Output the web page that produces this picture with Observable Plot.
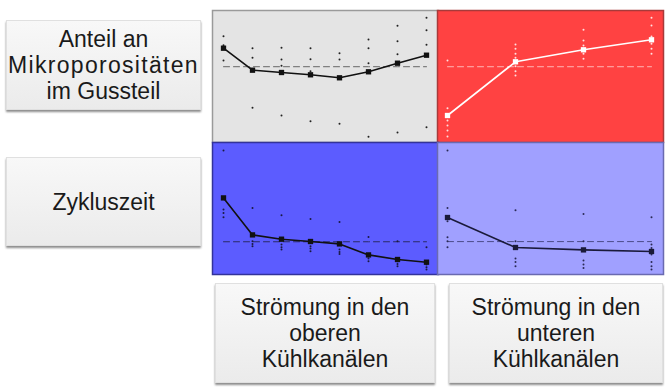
<!DOCTYPE html>
<html>
<head>
<meta charset="utf-8">
<script src="https://cdn.jsdelivr.net/npm/d3@7"></script>
<script src="https://cdn.jsdelivr.net/npm/@observablehq/plot@0.6"></script>
<style>
  html, body { margin: 0; padding: 0; background: #fff; }
  #wrap { position: relative; width: 672px; height: 391px; overflow: hidden; font-family: "Liberation Sans", Arial, Helvetica, sans-serif; }
  .panel { position: absolute; }
  .box {
    position: absolute; box-sizing: border-box;
    display: flex; align-items: center; justify-content: center; text-align: center;
    background: linear-gradient(#f8f8f8, #ebebeb);
    border: 1px solid #e0e0e0;
    box-shadow: 0 2px 2px rgba(0,0,0,0.45);
    color: #1a1a1a; font-size: 23px; line-height: 26px;
  }
  .wide { letter-spacing: 1.3px; }
</style>
</head>
<body>
<div id="wrap"></div>
<script>
// Factor levels (categories)
const levelsOben = ["O1", "O2", "O3", "O4", "O5", "O6", "O7", "O8"];
const levelsUnten = ["U1", "U2", "U3", "U4"];

// Row / column labels
const rowLabels = ["Anteil an<br><span class=\"wide\">Mikroporositäten</span><br>im Gussteil", "Zykluszeit"];
const colLabels = ["Strömung in den<br>oberen<br>Kühlkanälen", "Strömung in den<br>unteren<br>Kühlkanälen"];

// Mean values (main effects)
const meanPoroOben = [0.943, 0.723, 0.700, 0.677, 0.647, 0.707, 0.793, 0.873];
const meanPoroUnten = [0.270, 0.807, 0.927, 1.027];
const meanZeitOben = [0.766, 0.396, 0.353, 0.330, 0.306, 0.196, 0.150, 0.123];
const meanZeitUnten = [0.570, 0.270, 0.246, 0.230];

// Individual observations per level
const obsPoroOben = [
  [1.063, 0.973, 0.820],
  [0.943, 0.847, 0.347],
  [0.947, 0.830, 0.767, 0.270],
  [0.943, 0.833, 0.713, 0.213],
  [0.893, 0.830, 0.187],
  [1.030, 0.943, 0.793, 0.057],
  [1.167, 1.013, 0.883, 0.100],
  [1.247, 1.123, 0.977, 0.153]
];
const obsPoroUnten = [
  [0.820, 0.343, 0.220, 0.170, 0.120, 0.060],
  [0.980, 0.937, 0.887, 0.847, 0.763, 0.713, 0.670],
  [1.127, 1.020, 0.970, 0.887, 0.837],
  [1.247, 1.170, 1.060, 0.987, 0.937, 0.887]
];
const obsZeitOben = [
  [1.240, 0.650, 0.616, 0.573],
  [0.666, 0.333, 0.306, 0.283],
  [0.593, 0.300, 0.273, 0.250],
  [0.556, 0.283, 0.260, 0.233],
  [0.526, 0.250, 0.226, 0.206],
  [0.376, 0.183, 0.160, 0.133],
  [0.333, 0.133, 0.106, 0.083],
  [0.273, 0.100, 0.073, 0.050]
];
const obsZeitUnten = [
  [1.240, 0.666, 0.533, 0.373, 0.333, 0.273],
  [0.643, 0.333, 0.160, 0.126, 0.083],
  [0.606, 0.333, 0.140, 0.100, 0.066],
  [0.573, 0.300, 0.266, 0.200, 0.126, 0.083, 0.050]
];

const wrap = document.getElementById("wrap");

function panel({levels, means, obs, bg, border, line, dots, dashColor}) {
  const meanData = levels.map((l, i) => ({level: l, v: means[i]}));
  const obsData = levels.flatMap((l, i) => obs[i].map(v => ({level: l, v})));
  const g = d3.mean(means);
  return Plot.plot({
    width: 226, height: 132, margin: 0,
    style: {background: "transparent", overflow: "visible"},
    x: {type: "point", domain: levels, padding: 0, insetLeft: 10, insetRight: 12, axis: null},
    y: {domain: [0, 1.32], axis: null},
    marks: [
      Plot.frame({fill: bg, stroke: border, strokeWidth: 1.5}),
      Plot.line(levels.map(l => ({level: l, v: g})), {x: "level", y: "v", stroke: dashColor, strokeDasharray: "6,4", strokeWidth: 1}),
      Plot.dot(obsData, {x: "level", y: "v", r: 1, fill: dots, stroke: "none"}),
      Plot.line(meanData, {x: "level", y: "v", stroke: line, strokeWidth: 1.6}),
      Plot.dot(meanData, {x: "level", y: "v", symbol: "square", r: 3, fill: line, stroke: "none"})
    ]
  });
}

const panels = [
  {left: 212, top: 10, opts: {levels: levelsOben, means: meanPoroOben, obs: obsPoroOben, bg: "#e4e4e4", border: "#9a9a9a", line: "#111", dots: "#222", dashColor: "#666"}},
  {left: 437, top: 10, opts: {levels: levelsUnten, means: meanPoroUnten, obs: obsPoroUnten, bg: "#ff4242", border: "#a83a3a", line: "#fff", dots: "#ffe0e0", dashColor: "#ffb4b4"}},
  {left: 212, top: 142, opts: {levels: levelsOben, means: meanZeitOben, obs: obsZeitOben, bg: "#5c5cff", border: "#33339a", line: "#111", dots: "#1a1a40", dashColor: "#2a2a66"}},
  {left: 437, top: 142, opts: {levels: levelsUnten, means: meanZeitUnten, obs: obsZeitUnten, bg: "#a0a0ff", border: "#6a6ab0", line: "#1a1a3a", dots: "#2a2a55", dashColor: "#4a4a88"}}
];

for (const p of panels) {
  const div = document.createElement("div");
  div.className = "panel";
  div.style.left = p.left + "px";
  div.style.top = p.top + "px";
  div.appendChild(panel(p.opts));
  wrap.appendChild(div);
}

const boxes = [
  {html: rowLabels[0], left: 6, top: 20, w: 195, h: 90},
  {html: rowLabels[1], left: 6, top: 157, w: 195, h: 89},
  {html: colLabels[0], left: 215, top: 283, w: 220, h: 100},
  {html: colLabels[1], left: 449, top: 283, w: 214, h: 100}
];
for (const b of boxes) {
  const d = document.createElement("div");
  d.className = "box";
  d.style.left = b.left + "px";
  d.style.top = b.top + "px";
  d.style.width = b.w + "px";
  d.style.height = b.h + "px";
  d.innerHTML = "<div>" + b.html + "</div>";
  wrap.appendChild(d);
}
</script>
</body>
</html>
